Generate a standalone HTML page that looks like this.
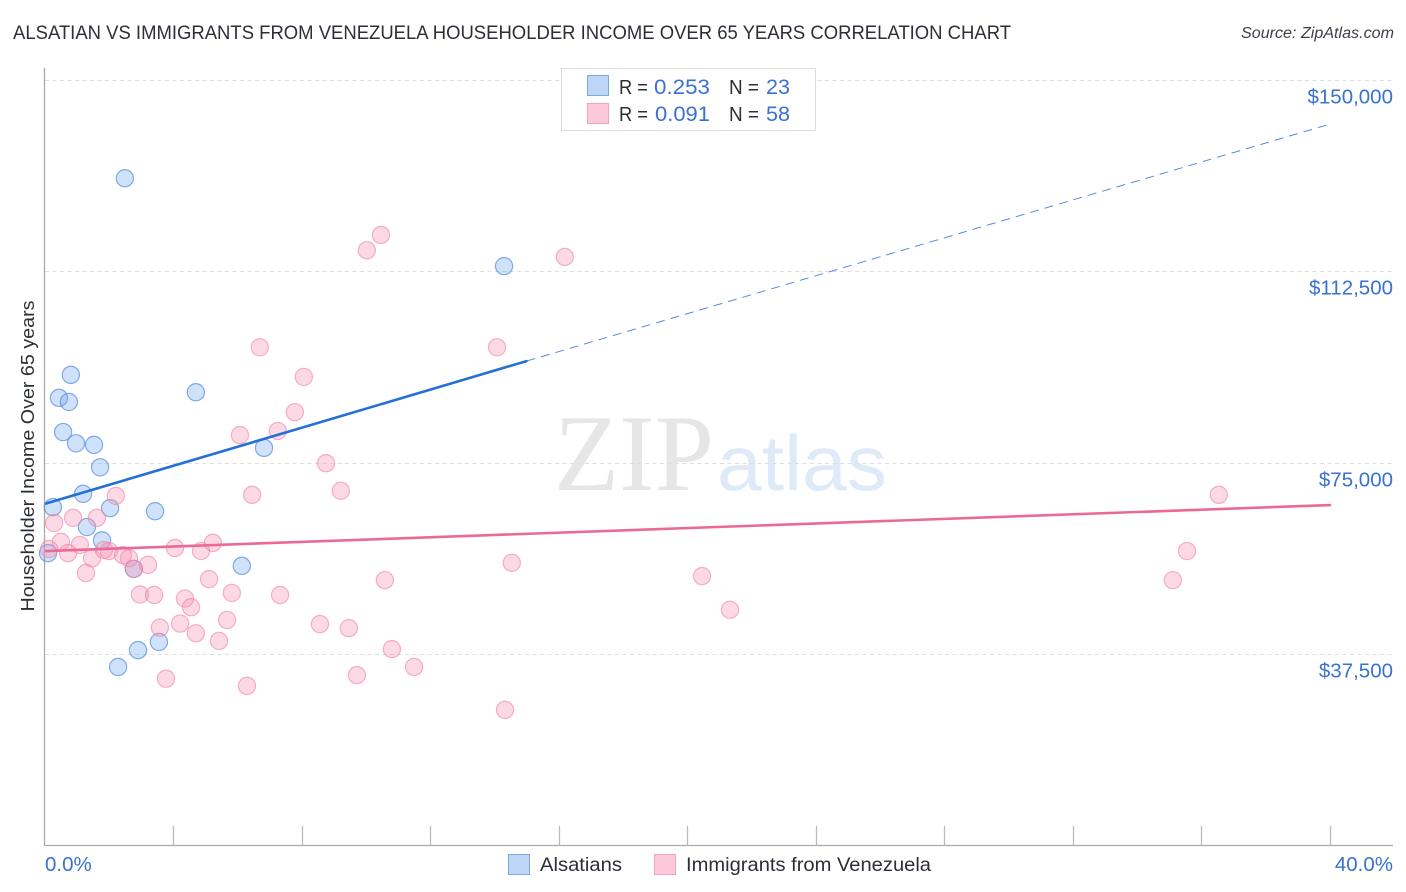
<!DOCTYPE html>
<html lang="en">
<head>
<meta charset="utf-8">
<title>Alsatian vs Immigrants from Venezuela Householder Income Over 65 Years Correlation Chart</title>
<style>
html,body{margin:0;padding:0;background:#fff;}
svg{display:block;font-family:"Liberation Sans",sans-serif;}
</style>
</head>
<body>
<svg id="chart" xmlns="http://www.w3.org/2000/svg" width="1406" height="892" viewBox="0 0 1406 892">
  <rect x="0" y="0" width="1406" height="892" fill="#ffffff"/>
  <text x="13" y="39" font-size="19.5" fill="#2b2f36" textLength="998" lengthAdjust="spacingAndGlyphs">ALSATIAN VS IMMIGRANTS FROM VENEZUELA HOUSEHOLDER INCOME OVER 65 YEARS CORRELATION CHART</text>
  <text x="1241" y="38" font-size="15.5" font-style="italic" fill="#3c4048" textLength="153" lengthAdjust="spacingAndGlyphs">Source: ZipAtlas.com</text>

  <g>
    <text x="554" y="490" font-family="'Liberation Serif',serif" font-size="109" fill="#e6e6e6" textLength="160" lengthAdjust="spacingAndGlyphs">ZIP</text>
    <text x="717" y="490" font-size="78" fill="#dfeaf9" textLength="170" lengthAdjust="spacingAndGlyphs">atlas</text>
  </g>

  <g id="grid"></g>
  <g id="axes"></g>
  <g id="points"></g>
  <g id="trends"></g>

  <text transform="translate(34,456) rotate(-90)" font-size="18.5" fill="#2b2f36" text-anchor="middle" textLength="311" lengthAdjust="spacingAndGlyphs">Householder Income Over 65 years</text>

  <g>
    <rect x="561.5" y="68.5" width="254" height="62" fill="#ffffff" stroke="#dddddd"/>
    <rect x="587.5" y="75.5" width="21" height="20" fill="#bdd6f8" stroke="#7fa9de"/>
    <rect x="587.5" y="103.5" width="21" height="20" fill="#fcc8da" stroke="#f2a3bd"/>
    <text x="619" y="94" font-size="20" fill="#2b2f36" textLength="29" lengthAdjust="spacingAndGlyphs">R =</text>
    <text x="654" y="94" font-size="21" fill="#3a72d0" textLength="56" lengthAdjust="spacingAndGlyphs">0.253</text>
    <text x="729" y="94" font-size="20" fill="#2b2f36" textLength="30" lengthAdjust="spacingAndGlyphs">N =</text>
    <text x="766" y="94" font-size="21" fill="#3a72d0" textLength="24" lengthAdjust="spacingAndGlyphs">23</text>
    <text x="619" y="121" font-size="20" fill="#2b2f36" textLength="29" lengthAdjust="spacingAndGlyphs">R =</text>
    <text x="655" y="121" font-size="21" fill="#3a72d0" textLength="55" lengthAdjust="spacingAndGlyphs">0.091</text>
    <text x="729" y="121" font-size="20" fill="#2b2f36" textLength="30" lengthAdjust="spacingAndGlyphs">N =</text>
    <text x="766" y="121" font-size="21" fill="#3a72d0" textLength="24" lengthAdjust="spacingAndGlyphs">58</text>
  </g>

  <g>
    <rect x="508.5" y="854.5" width="21" height="20" fill="#bdd6f8" stroke="#7fa9de"/>
    <text x="540" y="871" font-size="19.5" fill="#2b2f36" textLength="82" lengthAdjust="spacingAndGlyphs">Alsatians</text>
    <rect x="654.5" y="854.5" width="21" height="20" fill="#fcc8da" stroke="#f2a3bd"/>
    <text x="686" y="871" font-size="19.5" fill="#2b2f36" textLength="245" lengthAdjust="spacingAndGlyphs">Immigrants from Venezuela</text>
  </g>
</svg>
<script>
// Chart data
const yTickValues = [37500, 75000, 112500, 150000];
const yTickLabels = ["$37,500", "$75,000", "$112,500", "$150,000"];
const xTickValues = [0, 4, 8, 12, 16, 20, 24, 28, 32, 36, 40];
const xEndLabels = ["0.0%", "40.0%"];

const alsatianX = [2.50,14.30,0.82,0.45,0.76,4.71,0.58,0.98,1.54,6.83,1.73,1.20,0.26,2.04,3.44,1.32,1.79,2.78,6.14,0.11,3.56,2.91,2.29];
const alsatianY = [130700,113500,92200,87700,86900,88800,81000,78800,78500,77900,74100,68900,66300,66100,65500,62400,59800,54200,54800,57300,39900,38300,35000];

const venezuelaX = [16.19,10.47,10.03,6.70,14.08,8.07,7.79,6.08,7.26,8.76,9.22,6.46,2.22,36.54,0.89,1.63,0.30,0.14,0.51,1.10,5.24,4.06,4.87,35.55,0.73,1.48,1.85,2.01,2.44,2.63,3.22,14.54,1.29,2.78,20.46,5.12,10.59,35.11,2.97,3.41,5.83,7.33,4.37,4.56,21.33,5.68,4.22,3.59,8.57,9.47,4.71,5.43,10.81,11.50,9.72,3.78,6.30,14.33];
const venezuelaY = [115300,119600,116600,97600,97600,91800,84900,80400,81200,74900,69500,68700,68500,68700,64200,64200,63200,58100,59500,58900,59300,58300,57700,57700,57300,56300,57900,57700,56900,56300,55000,55400,53400,54200,52800,52200,52000,52000,49200,49100,49500,49100,48400,46700,46200,44200,43500,42700,43400,42600,41600,40100,38500,35000,33400,32700,31300,26600];

const alsatianTrendX = [0, 15, 40.05];
const alsatianTrendY = [67000, 94900, 141400];
const venezuelaTrendX = [0, 40];
const venezuelaTrendY = [57700, 66700];

// Axis functions
const xScale = function (v) { return 44.5 + v * (1330 - 44.5) / 40; };
const yScale = function (v) { return 845.7 - v * 191.5 / 37500; };

const NS = "http://www.w3.org/2000/svg";
function make(tag, parent, attrs) {
  const el = document.createElementNS(NS, tag);
  for (const k in attrs) el.setAttribute(k, attrs[k]);
  parent.appendChild(el);
  return el;
}

const gridG = document.getElementById("grid");
const axesG = document.getElementById("axes");
const pointsG = document.getElementById("points");
const trendsG = document.getElementById("trends");

// Gridlines and y labels
yTickValues.forEach(function (v, i) {
  const y = Math.round(yScale(v)) + 0.5;
  const g = make("line", gridG, { x1: 45, x2: 1393, y1: y, y2: y, stroke: "#dedede", "stroke-width": 1, "stroke-dasharray": "4 3.5" });
  
  
  const t = make("text", axesG, { x: 1393, y: y + 23, "font-size": 20.5, fill: "#3a72d0", "text-anchor": "end" });
  t.textContent = yTickLabels[i];
  
  
});

// Axis lines
const yAxisLine = make("line", axesG, { x1: 44.5, x2: 44.5, y1: 68, y2: 846, stroke: "#aaaaaa", "stroke-width": 1.3 });


const xAxisLine = make("line", axesG, { x1: 44, x2: 1393, y1: 845.5, y2: 845.5, stroke: "#aaaaaa", "stroke-width": 1.3 });



// X ticks (first tick coincides with y axis)
xTickValues.slice(1).forEach(function (v) {
  const x = Math.round(xScale(v)) + 0.5;
  const l = make("line", axesG, { x1: x, x2: x, y1: 826, y2: 845, stroke: "#bbbbbb", "stroke-width": 1.3 });
  
  
});

const xLabelLeft = make("text", axesG, { x: xScale(xTickValues[0]) + 0.5, y: 871, "font-size": 20.5, fill: "#3a72d0" });
xLabelLeft.textContent = xEndLabels[0];


const xLabelRight = make("text", axesG, { x: 1393, y: 871, "font-size": 20.5, fill: "#3a72d0", "text-anchor": "end" });
xLabelRight.textContent = xEndLabels[1];



// Points
alsatianX.forEach(function (v, i) {
  const c = make("circle", pointsG, { cx: xScale(v), cy: yScale(alsatianY[i]), r: 8.6, fill: "rgba(110,165,235,0.32)", stroke: "rgba(70,130,220,0.65)", "stroke-width": 1.2 });
  
  
});
venezuelaX.forEach(function (v, i) {
  const c = make("circle", pointsG, { cx: xScale(v), cy: yScale(venezuelaY[i]), r: 8.6, fill: "rgba(245,145,178,0.34)", stroke: "rgba(238,130,165,0.6)", "stroke-width": 1.2 });
  
  
});

// Trend lines
const blueSolid = make("line", trendsG, { x1: xScale(alsatianTrendX[0]) + 1.5, y1: yScale(alsatianTrendY[0]), x2: xScale(alsatianTrendX[1]), y2: yScale(alsatianTrendY[1]), stroke: "#2470d6", "stroke-width": 2.6, "stroke-linecap": "round" });


const blueDash = make("line", trendsG, { x1: xScale(alsatianTrendX[1]), y1: yScale(alsatianTrendY[1]), x2: xScale(alsatianTrendX[2]), y2: yScale(alsatianTrendY[2]), stroke: "#5a8cd2", "stroke-width": 1, "stroke-dasharray": "9 6" });


const pinkSolid = make("line", trendsG, { x1: xScale(venezuelaTrendX[0]) + 1.5, y1: yScale(venezuelaTrendY[0]), x2: xScale(venezuelaTrendX[1]), y2: yScale(venezuelaTrendY[1]), stroke: "#ea6a96", "stroke-width": 2.6, "stroke-linecap": "round" });


</script>
</body>
</html>
